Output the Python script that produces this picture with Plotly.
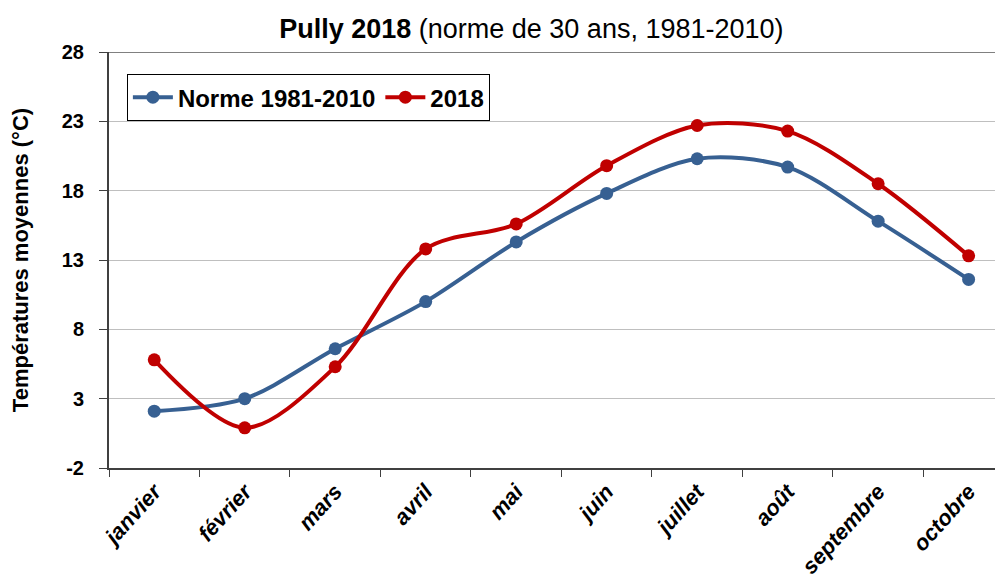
import plotly.graph_objects as go

months = ["janvier", "février", "mars", "avril", "mai", "juin",
          "juillet", "août", "septembre", "octobre"]
norme = [2.1, 3.0, 6.6, 10.0, 14.3, 17.8, 20.3, 19.7, 15.8, 11.6]
y2018 = [5.8, 0.9, 5.3, 13.8, 15.6, 19.8, 22.7, 22.3, 18.5, 13.3]
ytick_vals = [-2, 3, 8, 13, 18, 23, 28]
ytick_text = ["-2", "3", "8", "13", "18", "23", "28"]

FONT = "Liberation Sans, Arial, sans-serif"
BLUE = "#376092"
RED = "#C00000"

fig = go.Figure()
fig.add_trace(go.Scatter(
    x=months, y=norme, name="Norme 1981-2010", mode="lines+markers",
    line=dict(color=BLUE, width=4, shape="spline", smoothing=0.9),
    marker=dict(color=BLUE, size=13)))
fig.add_trace(go.Scatter(
    x=months, y=y2018, name="2018", mode="lines+markers",
    line=dict(color=RED, width=4, shape="spline", smoothing=0.9),
    marker=dict(color=RED, size=13)))

fig.update_layout(
    width=995, height=575,
    margin=dict(l=101, r=0, t=44, b=115, autoexpand=False),
    paper_bgcolor="white", plot_bgcolor="white",
    font=dict(family=FONT, color="black"),
    title=dict(
        text="<b>Pully 2018</b> (norme de 30 ans, 1981-2010)",
        font=dict(family=FONT, size=27, color="black"),
        xref="container", x=0.526, xanchor="center",
        yref="container", y=0.965, yanchor="middle"),
    showlegend=True,
    legend=dict(
        orientation="h", x=0.020, y=0.947, xanchor="left", yanchor="top",
        bordercolor="black", borderwidth=1, bgcolor="white",
        font=dict(family=FONT, size=24, color="black", weight="bold"),
        itemwidth=40, tracegroupgap=0),
    xaxis=dict(
        type="category", range=[-0.5, 9.38], tickson="boundaries",
        automargin=False,
        showgrid=False, showline=True, linecolor="#404040", linewidth=2,
        ticks="outside", ticklen=7, tickcolor="#404040", tickwidth=1,
        tickangle=-48,
        tickfont=dict(family=FONT, size=22, color="black", weight="bold", style="italic")),
    yaxis=dict(
        range=[-2, 28], tickvals=ytick_vals, ticktext=ytick_text,
        automargin=False,
        showgrid=True, gridcolor="#BFBFBF",
        gridwidth=1, zeroline=False, showline=True, linecolor="#404040", linewidth=2,
        ticks="outside", ticklen=8, tickcolor="#404040", tickwidth=1,
        ticklabelstandoff=11,
        tickfont=dict(family=FONT, size=20, color="black", weight="bold"),
        title=dict(text="Températures moyennes (°C)", standoff=28,
                   font=dict(family=FONT, size=22, color="black", weight="bold"))),
)

fig.add_shape(type="line", xref="paper", yref="y", x0=0, x1=1, y0=28, y1=28,
              line=dict(color="#808080", width=2))

fig.write_html("out.html")
